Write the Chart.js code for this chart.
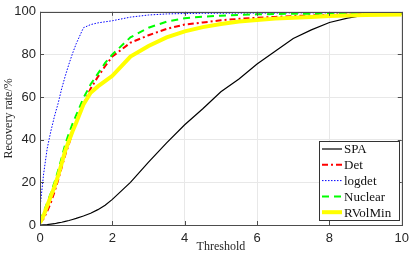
<!DOCTYPE html>
<html>
<head>
<meta charset="utf-8">
<script src="https://cdn.jsdelivr.net/npm/chart.js@4"></script>
<style>
  html, body { margin: 0; padding: 0; background: #fff; }
  #wrap { width: 415px; height: 254px; }
</style>
</head>
<body>
<div id="wrap"><canvas id="recoveryChart" width="415" height="254"></canvas></div>
<script>
// threshold values shared by all curves
const thresholds = [0, 0.1, 0.2, 0.3, 0.4, 0.5, 0.6, 0.7, 0.8, 0.9, 1, 1.2, 1.4, 1.6, 1.8, 2,
    2.5, 3, 3.5, 4, 4.5, 5, 5.5, 6, 6.5, 7, 7.5, 8, 8.5, 9, 9.5, 10];

const spa = [0, 0.1, 0.2, 0.4, 0.6, 1, 1.3, 1.7, 2.1, 2.6, 3.1, 4.2, 5.5, 7.2, 9.3, 12,
    20, 29.5, 38.5, 47, 54.5, 62.5, 68.5, 75.5, 81.5, 87.5, 91.5, 95, 97, 98.5, 98.9, 99];
const det = [1, 3, 6.5, 10.5, 15.5, 21, 27, 33, 38, 43.5, 48, 56.5, 64, 69.5, 74.5, 79,
    85.5, 89, 92, 94, 95, 96, 96.7, 97.2, 97.6, 98, 98.3, 98.6, 98.9, 99, 99.1, 99.2];
const logdet = [8, 24, 36, 44, 51, 57, 64, 70, 75.5, 80.5, 85, 92.5, 94, 94.8, 95.3, 95.8,
    97.5, 98.5, 99, 99.2, 99.3, 99.3, 99.4, 99.4, 99.4, 99.5, 99.5, 99.5, 99.5, 99.5, 99.5, 99.5];
const nuclear = [2, 6, 10.5, 15, 20, 25.5, 31.5, 38, 43, 47.5, 51.5, 59.5, 66, 71, 76, 80,
    88, 92.5, 95.4, 97, 97.7, 98.2, 98.5, 98.8, 99, 99.1, 99.1, 99.2, 99.2, 99.3, 99.3, 99.3];
const rvolmin = [1, 4.5, 9, 13.5, 18, 23, 29, 35, 39.5, 44, 48, 56.5, 62, 65, 67.5, 70,
    79, 84, 88, 90.8, 92.8, 94.3, 95.4, 96.2, 96.8, 97.2, 97.6, 98, 98.3, 98.5, 98.6, 98.7];

const xTicks = [0, 2, 4, 6, 8, 10];
const yTicks = [0, 20, 40, 60, 80, 100];

function toPoints(values) {
    return values.map((v, i) => ({ x: thresholds[i], y: v }));
}

// box, inward ticks and legend drawn like the matlab figure
const matlabFrame = {
    id: "matlabFrame",
    afterDatasetsDraw(chart) {
        const ctx = chart.ctx;
        const a = chart.chartArea;
        const xs = chart.scales.x, ys = chart.scales.y;
        ctx.save();
        ctx.strokeStyle = "#4d4d4d";
        ctx.lineWidth = 1;
        ctx.beginPath();
        xTicks.forEach(t => {
            const px = Math.round(xs.getPixelForValue(t)) + 0.5;
            ctx.moveTo(px, a.bottom); ctx.lineTo(px, a.bottom - 4);
            ctx.moveTo(px, a.top); ctx.lineTo(px, a.top + 4);
        });
        yTicks.forEach(t => {
            const py = Math.round(ys.getPixelForValue(t)) + 0.5;
            ctx.moveTo(a.left, py); ctx.lineTo(a.left + 4, py);
            ctx.moveTo(a.right, py); ctx.lineTo(a.right - 4, py);
        });
        ctx.stroke();
        ctx.strokeRect(Math.round(a.left) + 0.5, Math.round(a.top) + 0.5,
            Math.round(a.right - a.left), Math.round(a.bottom - a.top));

        // legend
        const w = 80, h = 79;
        const lx = Math.round(a.right) - 3 - w, ly = Math.round(a.bottom) - 5 - h;
        ctx.fillStyle = "#fff";
        ctx.fillRect(lx, ly, w, h);
        ctx.strokeStyle = "#333";
        ctx.strokeRect(lx + 0.5, ly + 0.5, w, h);
        ctx.font = "13px 'Liberation Serif'";
        ctx.textBaseline = "middle";
        chart.data.datasets.forEach((ds, i) => {
            const cy = ly + 8 + i * 15.8;
            ctx.strokeStyle = ds.borderColor;
            ctx.lineWidth = ds.borderWidth;
            ctx.setLineDash(ds.borderDash || []);
            ctx.beginPath();
            ctx.moveTo(lx + 3, cy);
            ctx.lineTo(lx + 23, cy);
            ctx.stroke();
            ctx.setLineDash([]);
            ctx.fillStyle = "#111";
            ctx.fillText(ds.label, lx + 25, cy + 1);
        });
        ctx.restore();
    }
};

const ctx = document.getElementById("recoveryChart").getContext("2d");

new Chart(ctx, {
    type: "line",
    data: {
        datasets: [
            { label: "SPA", data: toPoints(spa), borderColor: "#000000", borderWidth: 1.2, order: 5 },
            { label: "Det", data: toPoints(det), borderColor: "#ff0000", borderWidth: 2, borderDash: [6, 3, 2, 3], order: 4 },
            { label: "logdet", data: toPoints(logdet), borderColor: "#0000ff", borderWidth: 1, borderDash: [1.5, 1.5], order: 3 },
            { label: "Nuclear", data: toPoints(nuclear), borderColor: "#00ff00", borderWidth: 2, borderDash: [7, 5], order: 2 },
            { label: "RVolMin", data: toPoints(rvolmin), borderColor: "#ffff00", borderWidth: 4, order: 1 }
        ]
    },
    options: {
        responsive: false,
        animation: false,
        elements: { point: { radius: 0 }, line: { tension: 0, fill: false } },
        layout: { padding: { top: 7, right: 12, left: 0, bottom: 0 } },
        plugins: {
            legend: { display: false },
            tooltip: { enabled: false }
        },
        scales: {
            x: {
                type: "linear",
                min: 0,
                max: 10,
                afterBuildTicks: s => { s.ticks = xTicks.map(v => ({ value: v })); },
                afterFit: s => { s.height = 29; },
                grid: { color: "#e8e8e8", drawTicks: false },
                border: { display: false },
                ticks: { padding: 6, color: "#262626", font: { family: "'Liberation Sans'", size: 13 }, maxRotation: 0 },
                title: { display: true, text: "Threshold", color: "#262626", padding: { top: 0, bottom: 0 },
                    font: { family: "'Liberation Serif'", size: 12 } }
            },
            y: {
                min: 0,
                max: 100,
                afterBuildTicks: s => { s.ticks = yTicks.map(v => ({ value: v })); },
                afterFit: s => { s.width = 40; },
                grid: { color: "#e8e8e8", drawTicks: false },
                border: { display: false },
                ticks: { padding: 4, color: "#262626", font: { family: "'Liberation Sans'", size: 13 } },
                title: { display: true, text: "Recovery rate/%", color: "#262626", padding: { top: 2, bottom: 0 },
                    font: { family: "'Liberation Serif'", size: 12 } }
            }
        }
    },
    plugins: [matlabFrame]
});
</script>
</body>
</html>
